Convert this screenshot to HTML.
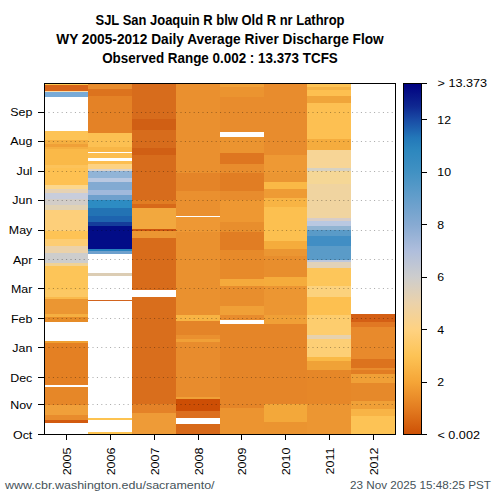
<!DOCTYPE html>
<html><head><meta charset="utf-8"><style>
html,body{margin:0;padding:0;background:#fff;width:500px;height:500px;overflow:hidden}
svg{display:block}
.lab{font-family:"Liberation Sans",sans-serif;font-size:11.4px;fill:#000}
.ttl{font-family:"Liberation Sans",sans-serif;font-size:14px;font-weight:bold;fill:#000}
.ft{font-family:"Liberation Sans",sans-serif;font-size:11.6px;fill:#465359}
.yr{font-family:"Liberation Sans",sans-serif;font-size:11.2px;fill:#000}
</style></head><body>
<svg width="500" height="500" viewBox="0 0 500 500">
<defs><linearGradient id="cb" x1="0" y1="1" x2="0" y2="0"><stop offset="0.0" stop-color="#cd5005"/><stop offset="0.067" stop-color="#e1781e"/><stop offset="0.15" stop-color="#f5a537"/><stop offset="0.224" stop-color="#fdc355"/><stop offset="0.3" stop-color="#fed282"/><stop offset="0.374" stop-color="#ebd2aa"/><stop offset="0.449" stop-color="#cdcdcd"/><stop offset="0.523" stop-color="#afbedc"/><stop offset="0.598" stop-color="#87aad2"/><stop offset="0.673" stop-color="#649ecb"/><stop offset="0.748" stop-color="#4191c3"/><stop offset="0.81" stop-color="#2d87be"/><stop offset="0.845" stop-color="#2378b9"/><stop offset="0.897" stop-color="#194ba5"/><stop offset="0.935" stop-color="#0f2891"/><stop offset="1.0" stop-color="#000080"/></linearGradient></defs>
<rect x="0" y="0" width="500" height="500" fill="#fff"/>
<g shape-rendering="crispEdges">
<rect x="45" y="84" width="43" height="1.00" fill="#ffc850"/><rect x="45" y="85" width="43" height="5.80" fill="#d76419"/><rect x="45" y="90.8" width="43" height="1.60" fill="#fadcaa"/><rect x="45" y="92.4" width="43" height="4.60" fill="#78aad7"/><rect x="45" y="131" width="43" height="8.50" fill="#fdc355"/><rect x="45" y="139.5" width="43" height="4.50" fill="#f5af41"/><rect x="45" y="144" width="43" height="3.00" fill="#f0a037"/><rect x="45" y="147" width="43" height="2.00" fill="#f5af41"/><rect x="45" y="149" width="43" height="15.50" fill="#fab948"/><rect x="45" y="164.5" width="43" height="3.80" fill="#fdc35a"/><rect x="45" y="168.3" width="43" height="16.50" fill="#fec152"/><rect x="45" y="184.8" width="43" height="4.40" fill="#fcd78c"/><rect x="45" y="189.2" width="43" height="3.50" fill="#e6d2b4"/><rect x="45" y="192.7" width="43" height="6.20" fill="#c8cddc"/><rect x="45" y="198.9" width="43" height="6.10" fill="#d2cdc8"/><rect x="45" y="205" width="43" height="4.50" fill="#e1d2b4"/><rect x="45" y="209.5" width="43" height="21.90" fill="#fdcf7a"/><rect x="45" y="231.4" width="43" height="8.00" fill="#fec355"/><rect x="45" y="239.4" width="43" height="6.10" fill="#fdcd73"/><rect x="45" y="245.5" width="43" height="7.10" fill="#ebd2aa"/><rect x="45" y="252.6" width="43" height="9.90" fill="#cdcdcd"/><rect x="45" y="262.5" width="43" height="3.50" fill="#f0d296"/><rect x="45" y="266" width="43" height="24.00" fill="#fdc558"/><rect x="45" y="290" width="43" height="7.00" fill="#fcc864"/><rect x="45" y="297" width="43" height="1.80" fill="#fab94b"/><rect x="45" y="298.8" width="43" height="15.00" fill="#eb9632"/><rect x="45" y="313.8" width="43" height="3.50" fill="#f5af41"/><rect x="45" y="317.3" width="43" height="4.40" fill="#e68c28"/><rect x="45" y="341" width="43" height="2.00" fill="#f0a032"/><rect x="45" y="343" width="43" height="41.50" fill="#e48023"/><rect x="45" y="386.5" width="43" height="18.50" fill="#e68728"/><rect x="45" y="405" width="43" height="9.60" fill="#f0a03a"/><rect x="45" y="414.6" width="43" height="5.40" fill="#e88c2d"/><rect x="45" y="420" width="43" height="2.60" fill="#d25a0f"/><rect x="88" y="84" width="44" height="5.40" fill="#e88c2d"/><rect x="88" y="89.4" width="44" height="6.40" fill="#dc731e"/><rect x="88" y="95.8" width="44" height="36.80" fill="#e48226"/><rect x="88" y="132.6" width="44" height="14.40" fill="#fcc052"/><rect x="88" y="147" width="44" height="4.80" fill="#f8b646"/><rect x="88" y="153.4" width="44" height="4.80" fill="#fcbe50"/><rect x="88" y="160.8" width="44" height="3.60" fill="#fcbe50"/><rect x="88" y="164.4" width="44" height="4.40" fill="#fdd282"/><rect x="88" y="168.8" width="44" height="2.60" fill="#dcd2c8"/><rect x="88" y="171.4" width="44" height="6.20" fill="#91b4d7"/><rect x="88" y="177.6" width="44" height="4.40" fill="#b9c8e1"/><rect x="88" y="182" width="44" height="8.00" fill="#82aad2"/><rect x="88" y="190" width="44" height="5.20" fill="#a0b9dc"/><rect x="88" y="195.2" width="44" height="4.40" fill="#6ea0cd"/><rect x="88" y="199.6" width="44" height="7.90" fill="#2d8cc3"/><rect x="88" y="207.5" width="44" height="8.80" fill="#2373b4"/><rect x="88" y="216.3" width="44" height="5.30" fill="#1e64af"/><rect x="88" y="221.6" width="44" height="4.40" fill="#143c9b"/><rect x="88" y="226" width="44" height="22.80" fill="#020c87"/><rect x="88" y="248.8" width="44" height="1.80" fill="#2882be"/><rect x="88" y="250.6" width="44" height="3.00" fill="#6ea0cd"/><rect x="88" y="273" width="44" height="2.70" fill="#dccdb4"/><rect x="88" y="299.8" width="44" height="1.20" fill="#d2641e"/><rect x="88" y="418" width="44" height="1.70" fill="#fdc350"/><rect x="88" y="432" width="44" height="2.00" fill="#fdc350"/><rect x="132" y="84" width="44" height="35.00" fill="#d76c1c"/><rect x="132" y="119" width="44" height="11.00" fill="#d05f14"/><rect x="132" y="130" width="44" height="18.00" fill="#d76c1c"/><rect x="132" y="148" width="44" height="7.00" fill="#d05f14"/><rect x="132" y="155" width="44" height="45.00" fill="#d76c1c"/><rect x="132" y="200" width="44" height="4.40" fill="#e17d23"/><rect x="132" y="204.4" width="44" height="4.00" fill="#d76919"/><rect x="132" y="208.4" width="44" height="20.60" fill="#f2a83e"/><rect x="132" y="229" width="44" height="2.20" fill="#cd550f"/><rect x="132" y="231.2" width="44" height="6.70" fill="#eb9632"/><rect x="132" y="237.9" width="44" height="52.10" fill="#d86c1b"/><rect x="132" y="297.2" width="44" height="106.80" fill="#d96e1c"/><rect x="132" y="404" width="44" height="9.00" fill="#e48228"/><rect x="132" y="413" width="44" height="21.00" fill="#ee9b37"/><rect x="176" y="84" width="44" height="89.00" fill="#ea902f"/><rect x="176" y="173" width="44" height="18.00" fill="#e48428"/><rect x="176" y="191" width="44" height="25.00" fill="#ea902f"/><rect x="176" y="217" width="44" height="15.00" fill="#ee9834"/><rect x="176" y="232" width="44" height="83.00" fill="#ea912f"/><rect x="176" y="315" width="44" height="5.50" fill="#f8b444"/><rect x="176" y="320.5" width="44" height="14.50" fill="#e48428"/><rect x="176" y="335" width="44" height="3.50" fill="#ea902f"/><rect x="176" y="338.5" width="44" height="3.50" fill="#f0a037"/><rect x="176" y="342" width="44" height="55.30" fill="#e88c2d"/><rect x="176" y="397.3" width="44" height="1.70" fill="#f0a037"/><rect x="176" y="399" width="44" height="12.30" fill="#cd4e05"/><rect x="176" y="411.3" width="44" height="7.00" fill="#dc6e1e"/><rect x="176" y="424.3" width="44" height="9.70" fill="#d76919"/><rect x="220" y="84" width="44" height="2.60" fill="#f0a037"/><rect x="220" y="86.6" width="44" height="10.80" fill="#eb9430"/><rect x="220" y="97.4" width="44" height="34.60" fill="#e88c2d"/><rect x="220" y="137" width="44" height="16.00" fill="#eb9430"/><rect x="220" y="153" width="44" height="11.00" fill="#de7620"/><rect x="220" y="164" width="44" height="9.00" fill="#e88c2d"/><rect x="220" y="173" width="44" height="18.00" fill="#e17d23"/><rect x="220" y="191" width="44" height="9.00" fill="#e88c2d"/><rect x="220" y="200" width="44" height="21.60" fill="#ee9832"/><rect x="220" y="221.6" width="44" height="10.80" fill="#e88e2d"/><rect x="220" y="232.4" width="44" height="17.90" fill="#e17d23"/><rect x="220" y="250.3" width="44" height="28.70" fill="#e78a2a"/><rect x="220" y="279" width="44" height="7.40" fill="#f5aa3c"/><rect x="220" y="286.4" width="44" height="19.60" fill="#e88e2d"/><rect x="220" y="306" width="44" height="9.00" fill="#f0a037"/><rect x="220" y="315" width="44" height="5.00" fill="#e88c2d"/><rect x="220" y="324" width="44" height="83.50" fill="#e58528"/><rect x="220" y="407.5" width="44" height="26.50" fill="#ec9430"/><rect x="264" y="84" width="43" height="71.00" fill="#e88c2d"/><rect x="264" y="155" width="43" height="18.00" fill="#ee9934"/><rect x="264" y="173" width="43" height="9.00" fill="#eb9632"/><rect x="264" y="182" width="43" height="7.20" fill="#fab946"/><rect x="264" y="189.2" width="43" height="9.00" fill="#ee9b34"/><rect x="264" y="198.2" width="43" height="8.80" fill="#f8b444"/><rect x="264" y="207" width="43" height="34.30" fill="#fcc050"/><rect x="264" y="241.3" width="43" height="7.20" fill="#f5ac3c"/><rect x="264" y="248.5" width="43" height="7.20" fill="#eb9632"/><rect x="264" y="255.7" width="43" height="21.70" fill="#e88e2d"/><rect x="264" y="277.4" width="43" height="9.00" fill="#f5ac3c"/><rect x="264" y="286.4" width="43" height="28.60" fill="#ec9632"/><rect x="264" y="315" width="43" height="9.00" fill="#f0a037"/><rect x="264" y="324" width="43" height="80.00" fill="#e58528"/><rect x="264" y="404" width="43" height="18.00" fill="#f3a83a"/><rect x="264" y="422" width="43" height="12.00" fill="#eb9430"/><rect x="307" y="84" width="44" height="2.60" fill="#fdc355"/><rect x="307" y="86.6" width="44" height="3.60" fill="#f5b244"/><rect x="307" y="90.2" width="44" height="5.40" fill="#fdc050"/><rect x="307" y="95.6" width="44" height="7.20" fill="#f0a53a"/><rect x="307" y="102.8" width="44" height="36.00" fill="#fdc052"/><rect x="307" y="138.8" width="44" height="10.70" fill="#f5ac3e"/><rect x="307" y="149.5" width="44" height="18.00" fill="#f7d596"/><rect x="307" y="167.5" width="44" height="3.30" fill="#d7d2c3"/><rect x="307" y="170.8" width="44" height="13.20" fill="#f5d796"/><rect x="307" y="184" width="44" height="33.50" fill="#f0d4a0"/><rect x="307" y="217.5" width="44" height="3.50" fill="#d7cdc8"/><rect x="307" y="221" width="44" height="5.30" fill="#b9c8e1"/><rect x="307" y="226.3" width="44" height="3.50" fill="#91b4d2"/><rect x="307" y="229.8" width="44" height="6.20" fill="#5a9bc8"/><rect x="307" y="236" width="44" height="10.00" fill="#418ec4"/><rect x="307" y="246" width="44" height="13.70" fill="#5a9bc8"/><rect x="307" y="259.7" width="44" height="2.60" fill="#bec8dc"/><rect x="307" y="262.3" width="44" height="5.20" fill="#e1d2b9"/><rect x="307" y="267.5" width="44" height="18.90" fill="#fdc65a"/><rect x="307" y="286.4" width="44" height="10.80" fill="#fcd27d"/><rect x="307" y="297.2" width="44" height="17.80" fill="#fdc050"/><rect x="307" y="315" width="44" height="20.00" fill="#fdcd6e"/><rect x="307" y="335" width="44" height="4.40" fill="#e6d2af"/><rect x="307" y="339.4" width="44" height="17.80" fill="#fdcf76"/><rect x="307" y="357.2" width="44" height="3.60" fill="#fab946"/><rect x="307" y="360.8" width="44" height="9.00" fill="#f0a237"/><rect x="307" y="369.8" width="44" height="34.20" fill="#e68728"/><rect x="307" y="404" width="44" height="30.00" fill="#ec9632"/><rect x="351" y="314" width="44" height="7.50" fill="#d45f14"/><rect x="351" y="321.5" width="44" height="5.20" fill="#e17823"/><rect x="351" y="326.7" width="44" height="32.00" fill="#e88a2c"/><rect x="351" y="358.7" width="44" height="9.00" fill="#dc731e"/><rect x="351" y="367.7" width="44" height="2.30" fill="#e88c2d"/><rect x="351" y="370" width="44" height="3.80" fill="#e17d23"/><rect x="351" y="373.8" width="44" height="9.00" fill="#f0a037"/><rect x="351" y="382.8" width="44" height="18.00" fill="#e6892a"/><rect x="351" y="400.8" width="44" height="7.70" fill="#f0a037"/><rect x="351" y="408.5" width="44" height="7.50" fill="#f8b446"/><rect x="351" y="416" width="44" height="18.00" fill="#fdc355"/>
</g>
<line x1="38" y1="434.5" x2="44" y2="434.5" stroke="#000" stroke-width="1"/><text transform="translate(32.3,438.7) scale(1.09,1)" text-anchor="end" class="lab">Oct</text><line x1="45" y1="404.5" x2="395" y2="404.5" stroke="#000" stroke-opacity="0.35" stroke-width="1" stroke-dasharray="1 3.4" stroke-dashoffset="-3.5"/><line x1="38" y1="404.5" x2="44" y2="404.5" stroke="#000" stroke-width="1"/><text transform="translate(32.3,408.7) scale(1.09,1)" text-anchor="end" class="lab">Nov</text><line x1="45" y1="377.5" x2="395" y2="377.5" stroke="#000" stroke-opacity="0.35" stroke-width="1" stroke-dasharray="1 3.4" stroke-dashoffset="-3.5"/><line x1="38" y1="377.5" x2="44" y2="377.5" stroke="#000" stroke-width="1"/><text transform="translate(32.3,381.7) scale(1.09,1)" text-anchor="end" class="lab">Dec</text><line x1="45" y1="347.5" x2="395" y2="347.5" stroke="#000" stroke-opacity="0.35" stroke-width="1" stroke-dasharray="1 3.4" stroke-dashoffset="-3.5"/><line x1="38" y1="347.5" x2="44" y2="347.5" stroke="#000" stroke-width="1"/><text transform="translate(32.3,351.7) scale(1.09,1)" text-anchor="end" class="lab">Jan</text><line x1="45" y1="318.5" x2="395" y2="318.5" stroke="#000" stroke-opacity="0.35" stroke-width="1" stroke-dasharray="1 3.4" stroke-dashoffset="-3.5"/><line x1="38" y1="318.5" x2="44" y2="318.5" stroke="#000" stroke-width="1"/><text transform="translate(32.3,322.7) scale(1.09,1)" text-anchor="end" class="lab">Feb</text><line x1="45" y1="288.5" x2="395" y2="288.5" stroke="#000" stroke-opacity="0.35" stroke-width="1" stroke-dasharray="1 3.4" stroke-dashoffset="-3.5"/><line x1="38" y1="288.5" x2="44" y2="288.5" stroke="#000" stroke-width="1"/><text transform="translate(32.3,292.7) scale(1.09,1)" text-anchor="end" class="lab">Mar</text><line x1="45" y1="259.5" x2="395" y2="259.5" stroke="#000" stroke-opacity="0.35" stroke-width="1" stroke-dasharray="1 3.4" stroke-dashoffset="-3.5"/><line x1="38" y1="259.5" x2="44" y2="259.5" stroke="#000" stroke-width="1"/><text transform="translate(32.3,263.7) scale(1.09,1)" text-anchor="end" class="lab">Apr</text><line x1="45" y1="230.5" x2="395" y2="230.5" stroke="#000" stroke-opacity="0.35" stroke-width="1" stroke-dasharray="1 3.4" stroke-dashoffset="-3.5"/><line x1="38" y1="230.5" x2="44" y2="230.5" stroke="#000" stroke-width="1"/><text transform="translate(32.3,233.9) scale(1.09,1)" text-anchor="end" class="lab">May</text><line x1="45" y1="200.5" x2="395" y2="200.5" stroke="#000" stroke-opacity="0.35" stroke-width="1" stroke-dasharray="1 3.4" stroke-dashoffset="-3.5"/><line x1="38" y1="200.5" x2="44" y2="200.5" stroke="#000" stroke-width="1"/><text transform="translate(32.3,203.9) scale(1.09,1)" text-anchor="end" class="lab">Jun</text><line x1="45" y1="171.5" x2="395" y2="171.5" stroke="#000" stroke-opacity="0.35" stroke-width="1" stroke-dasharray="1 3.4" stroke-dashoffset="-3.5"/><line x1="38" y1="171.5" x2="44" y2="171.5" stroke="#000" stroke-width="1"/><text transform="translate(32.3,174.9) scale(1.09,1)" text-anchor="end" class="lab">Jul</text><line x1="45" y1="141.5" x2="395" y2="141.5" stroke="#000" stroke-opacity="0.35" stroke-width="1" stroke-dasharray="1 3.4" stroke-dashoffset="-3.5"/><line x1="38" y1="141.5" x2="44" y2="141.5" stroke="#000" stroke-width="1"/><text transform="translate(32.3,144.9) scale(1.09,1)" text-anchor="end" class="lab">Aug</text><line x1="45" y1="112.5" x2="395" y2="112.5" stroke="#000" stroke-opacity="0.35" stroke-width="1" stroke-dasharray="1 3.4" stroke-dashoffset="-3.5"/><line x1="38" y1="112.5" x2="44" y2="112.5" stroke="#000" stroke-width="1"/><text transform="translate(32.3,115.9) scale(1.09,1)" text-anchor="end" class="lab">Sep</text><line x1="66.5" y1="434" x2="66.5" y2="440" stroke="#000" stroke-width="1"/><text transform="translate(70.50,447.5) rotate(-90) scale(1.12,1)" text-anchor="end" class="yr">2005</text><line x1="110.5" y1="434" x2="110.5" y2="440" stroke="#000" stroke-width="1"/><text transform="translate(114.50,447.5) rotate(-90) scale(1.12,1)" text-anchor="end" class="yr">2006</text><line x1="154.5" y1="434" x2="154.5" y2="440" stroke="#000" stroke-width="1"/><text transform="translate(158.50,447.5) rotate(-90) scale(1.12,1)" text-anchor="end" class="yr">2007</text><line x1="198.5" y1="434" x2="198.5" y2="440" stroke="#000" stroke-width="1"/><text transform="translate(202.50,447.5) rotate(-90) scale(1.12,1)" text-anchor="end" class="yr">2008</text><line x1="241.5" y1="434" x2="241.5" y2="440" stroke="#000" stroke-width="1"/><text transform="translate(245.50,447.5) rotate(-90) scale(1.12,1)" text-anchor="end" class="yr">2009</text><line x1="285.5" y1="434" x2="285.5" y2="440" stroke="#000" stroke-width="1"/><text transform="translate(289.50,447.5) rotate(-90) scale(1.12,1)" text-anchor="end" class="yr">2010</text><line x1="329.5" y1="434" x2="329.5" y2="440" stroke="#000" stroke-width="1"/><text transform="translate(333.50,447.5) rotate(-90) scale(1.12,1)" text-anchor="end" class="yr">2011</text><line x1="373.5" y1="434" x2="373.5" y2="440" stroke="#000" stroke-width="1"/><text transform="translate(377.50,447.5) rotate(-90) scale(1.12,1)" text-anchor="end" class="yr">2012</text><line x1="421" y1="434.5" x2="427" y2="434.5" stroke="#000" stroke-width="1"/><text x="437.5" y="438.7" class="lab" textLength="42.4" lengthAdjust="spacingAndGlyphs">&lt; 0.002</text><line x1="421" y1="382.5" x2="427" y2="382.5" stroke="#000" stroke-width="1"/><text transform="translate(437.3,385.9) scale(1.08,1)" class="lab">2</text><line x1="421" y1="329.5" x2="427" y2="329.5" stroke="#000" stroke-width="1"/><text transform="translate(437.3,333.7) scale(1.08,1)" class="lab">4</text><line x1="421" y1="277.5" x2="427" y2="277.5" stroke="#000" stroke-width="1"/><text transform="translate(437.3,280.9) scale(1.08,1)" class="lab">6</text><line x1="421" y1="224.5" x2="427" y2="224.5" stroke="#000" stroke-width="1"/><text transform="translate(437.3,228.7) scale(1.08,1)" class="lab">8</text><line x1="421" y1="172.5" x2="427" y2="172.5" stroke="#000" stroke-width="1"/><text transform="translate(437.3,175.9) scale(1.08,1)" class="lab">10</text><line x1="421" y1="119.5" x2="427" y2="119.5" stroke="#000" stroke-width="1"/><text transform="translate(437.3,123.7) scale(1.08,1)" class="lab">12</text><line x1="421" y1="83.5" x2="427" y2="83.5" stroke="#000" stroke-width="1"/><text x="437.5" y="86.9" class="lab" textLength="49.6" lengthAdjust="spacingAndGlyphs">&gt; 13.373</text>
<rect x="44.5" y="83.5" width="351" height="351" fill="none" stroke="#000" stroke-width="1"/>
<rect x="403.5" y="83.5" width="18" height="351" fill="url(#cb)" stroke="#000" stroke-width="1"/>
<text x="220" y="25.2" text-anchor="middle" class="ttl" textLength="249" lengthAdjust="spacingAndGlyphs">SJL San Joaquin R blw Old R nr Lathrop</text>
<text x="220" y="43.8" text-anchor="middle" class="ttl" textLength="327.5" lengthAdjust="spacingAndGlyphs">WY 2005-2012 Daily Average River Discharge Flow</text>
<text x="220" y="62.5" text-anchor="middle" class="ttl" textLength="235.6" lengthAdjust="spacingAndGlyphs">Observed Range 0.002 : 13.373 TCFS</text>
<text x="5" y="489" class="ft" textLength="209.6" lengthAdjust="spacingAndGlyphs">www.cbr.washington.edu/sacramento/</text>
<text x="350" y="489" class="ft" textLength="141" lengthAdjust="spacingAndGlyphs">23 Nov 2025 15:48:25 PST</text>
</svg>
</body></html>
